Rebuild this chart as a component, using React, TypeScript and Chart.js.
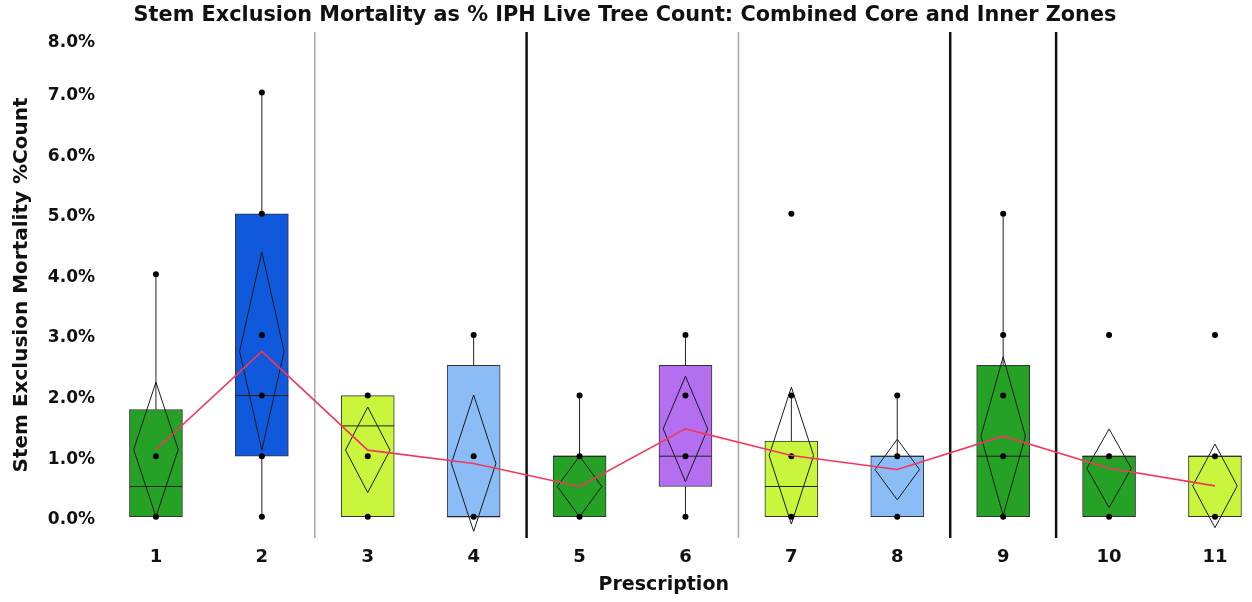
import { useEffect, useRef } from "react";
import { Chart, registerables } from "chart.js";

Chart.register(...registerables);

// Prescription groups on the x axis
const prescriptions = [1, 2, 3, 4, 5, 6, 7, 8, 9, 10, 11];

// Box fill per prescription
const boxColors = [
  "#25a125", "#1058dc", "#c9f53c", "#8cbcf5", "#25a125", "#b36ff0",
  "#c9f53c", "#8cbcf5", "#25a125", "#25a125", "#c9f53c",
];

// Quartiles (% count)
const q1 = [0, 1.0, 0, 0, 0, 0.5, 0, 0, 0, 0, 0];
const medians = [0.5, 2.0, 1.5, 0, 1.0, 1.0, 0.5, 1.0, 1.0, 1.0, 1.0];
const q3 = [1.77, 5.0, 2.0, 2.5, 1.0, 2.5, 1.25, 1.0, 2.5, 1.0, 1.0];

// Whisker ends
const whiskerLow = [0, 0, 0, 0, 0, 0, 0, 0, 0, 0, 0];
const whiskerHigh = [4.0, 7.0, 2.0, 3.0, 2.0, 3.0, 2.0, 2.0, 5.0, 1.0, 1.0];

// Individual plot observations
const observations = [
  [0, 1, 4],
  [0, 1, 2, 3, 5, 7],
  [0, 1, 2],
  [0, 1, 3],
  [0, 1, 2],
  [0, 1, 2, 3],
  [0, 1, 2, 5],
  [0, 1, 2],
  [0, 1, 2, 3, 5],
  [0, 1, 3],
  [0, 1, 3],
];

// Group means with 95% confidence limits (mean diamonds)
const means = [1.11, 2.73, 1.1, 0.88, 0.5, 1.45, 1.01, 0.78, 1.33, 0.8, 0.51];
const ciLow = [0.0, 1.1, 0.4, -0.24, 0.0, 0.58, -0.12, 0.28, 0.02, 0.15, -0.18];
const ciHigh = [2.22, 4.37, 1.81, 2.01, 1.0, 2.32, 2.14, 1.28, 2.64, 1.45, 1.2];

// Group dividers
const heavyDividers = [4.5, 8.5, 9.5];
const lightDividers = [2.5, 6.5];

// Axis ranges
const yTicks = [0, 1, 2, 3, 4, 5, 6, 7, 8];
const Y_MIN = -0.35;
const Y_MAX = 8.0;
const X_MIN = 0.5;
const X_MAX = 11.09;

const DIAMOND_HALF = 0.21;
const FONT = "'DejaVu Sans', sans-serif";
const INK = "#111111";

// Nudge the y tick labels slightly below their ticks; keep the top one inside the frame
const yLabelNudge = {
  id: "yLabelNudge",
  beforeDraw(chart: any) {
    const scale = chart.scales.y;
    if (!scale || scale._nudged) return;
    const items = scale.getLabelItems();
    items.forEach((item: any, i: number) => {
      const t = item.options && item.options.translation;
      if (!t) return;
      const v = scale.ticks[i] ? scale.ticks[i].value : 0;
      t[1] += v >= Y_MAX ? 11 : 3;
    });
    scale._nudged = true;
  },
};

export default function App() {
  const canvasRef = useRef<HTMLCanvasElement | null>(null);

  useEffect(() => {
    const canvas = canvasRef.current;
    if (!canvas) return;

    const whiskerData: any[] = [];
    prescriptions.forEach((p, i) => {
      if (whiskerHigh[i] > q3[i]) {
        whiskerData.push({ x: p, y: q3[i] }, { x: p, y: whiskerHigh[i] }, { x: p, y: null });
      }
      if (whiskerLow[i] < q1[i]) {
        whiskerData.push({ x: p, y: whiskerLow[i] }, { x: p, y: q1[i] }, { x: p, y: null });
      }
    });

    const diamondData: any[] = [];
    prescriptions.forEach((p, i) => {
      diamondData.push(
        { x: p - DIAMOND_HALF, y: means[i] },
        { x: p, y: ciHigh[i] },
        { x: p + DIAMOND_HALF, y: means[i] },
        { x: p, y: ciLow[i] },
        { x: p - DIAMOND_HALF, y: means[i] },
        { x: p, y: null }
      );
    });

    const pointData: any[] = [];
    prescriptions.forEach((p, i) => {
      observations[i].forEach((v) => pointData.push({ x: p, y: v }));
    });

    const dividerSet = (xs: number[], color: string, width: number) => {
      const data: any[] = [];
      xs.forEach((x) => data.push({ x, y: Y_MIN }, { x, y: Y_MAX }, { x, y: null }));
      return {
        type: "line" as const,
        data,
        borderColor: color,
        borderWidth: width,
        pointRadius: 0,
        spanGaps: false,
        order: 9,
      };
    };

    const chart = new Chart(canvas, {
      type: "bar",
      data: {
        datasets: [
          {
            type: "bar",
            data: prescriptions.map((p, i) => ({ x: p, y: [q1[i], q3[i]] })) as any,
            backgroundColor: boxColors,
            borderColor: "#333333",
            borderWidth: 1,
            borderSkipped: false,
            barThickness: 53,
            grouped: false,
            clip: false,
            order: 10,
          } as any,
          dividerSet(heavyDividers, "#111111", 2.5),
          dividerSet(lightDividers, "#a8a8a8", 1.5),
          {
            type: "scatter",
            data: prescriptions.map((p, i) => ({ x: p, y: medians[i] })),
            pointStyle: "line",
            pointRadius: 26.5,
            pointBorderColor: "#222222",
            pointBorderWidth: 1,
            clip: false,
            order: 8,
          } as any,
          {
            type: "line",
            data: whiskerData,
            borderColor: "#222222",
            borderWidth: 1,
            pointRadius: 0,
            spanGaps: false,
            order: 7,
          } as any,
          {
            type: "line",
            data: diamondData,
            borderColor: "#1a1a1a",
            borderWidth: 1,
            pointRadius: 0,
            tension: 0,
            spanGaps: false,
            clip: false,
            order: 6,
          } as any,
          {
            type: "scatter",
            data: pointData,
            pointRadius: 3,
            pointBackgroundColor: "#000000",
            pointBorderColor: "#000000",
            pointBorderWidth: 0,
            clip: false,
            order: 5,
          } as any,
          {
            type: "line",
            data: prescriptions.map((p, i) => ({ x: p, y: means[i] })),
            borderColor: "#f4365e",
            borderWidth: 1.6,
            pointRadius: 0,
            tension: 0,
            clip: false,
            order: 3,
          } as any,
        ],
      },
      options: {
        animation: false,
        responsive: false,
        events: [],
        layout: { padding: { top: 0, right: 2, bottom: 0, left: 0 } },
        plugins: {
          legend: { display: false },
          tooltip: { enabled: false },
          title: {
            display: true,
            text: "Stem Exclusion Mortality as % IPH Live Tree Count: Combined Core and Inner Zones",
            color: INK,
            font: { family: FONT, size: 20.8, weight: "bold" },
            padding: { top: 3, bottom: 4 },
          },
        },
        scales: {
          x: {
            type: "linear",
            min: X_MIN,
            max: X_MAX,
            bounds: "data",
            offset: false,
            grid: { display: false, drawTicks: false },
            border: { display: false },
            afterBuildTicks: (scale: any) => {
              scale.ticks = prescriptions.map((v) => ({ value: v }));
              scale.min = X_MIN;
              scale.max = X_MAX;
            },
            afterFit: (scale: any) => {
              scale.height = 64;
              scale.paddingLeft = 0;
              scale.paddingRight = 0;
            },
            ticks: {
              color: INK,
              padding: 9,
              maxRotation: 0,
              autoSkip: false,
              font: { family: FONT, size: 18, weight: "bold" },
              callback: (v: any) => String(v),
            },
            title: {
              display: true,
              text: "Prescription",
              color: INK,
              font: { family: FONT, size: 19, weight: "bold" },
              padding: { top: 0, bottom: 6 },
            },
          },
          y: {
            type: "linear",
            min: Y_MIN,
            max: Y_MAX,
            bounds: "data",
            grid: { display: false, drawTicks: false },
            border: { display: false },
            afterBuildTicks: (scale: any) => {
              scale.ticks = yTicks.map((v) => ({ value: v }));
              scale.min = Y_MIN;
              scale.max = Y_MAX;
            },
            afterFit: (scale: any) => {
              scale.width = 103;
            },
            ticks: {
              color: INK,
              padding: 8,
              font: { family: FONT, size: 17, weight: "bold" },
              callback: (v: any) => Number(v).toFixed(1) + "%",
            },
            title: {
              display: true,
              text: "Stem Exclusion Mortality %Count",
              color: INK,
              font: { family: FONT, size: 20, weight: "bold" },
              padding: { top: 10, bottom: 0 },
            },
          },
        },
      } as any,
      plugins: [yLabelNudge],
    });

    return () => chart.destroy();
  }, []);

  return (
    <div style={{ position: "fixed", left: 0, top: 0, width: 1252, height: 602, background: "#ffffff" }}>
      <canvas ref={canvasRef} width={1252} height={602} />
    </div>
  );
}
